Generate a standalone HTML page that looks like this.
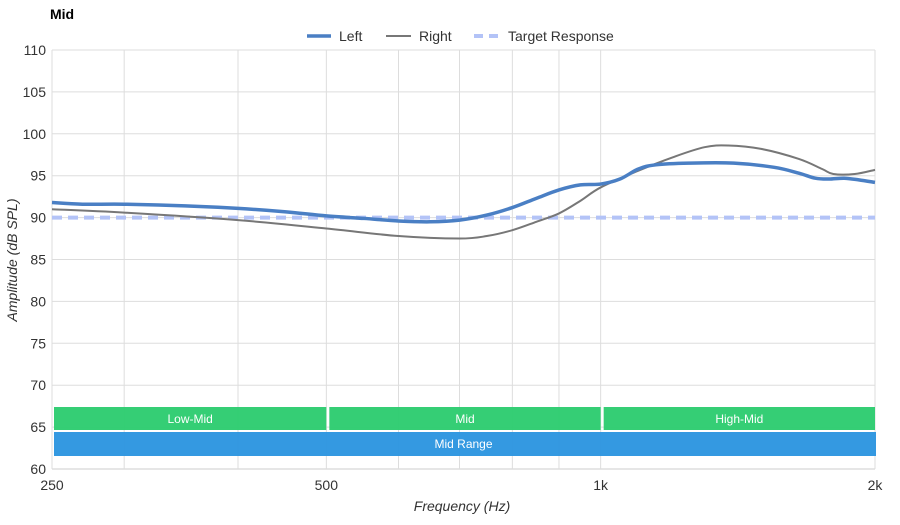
<!DOCTYPE html>
<html><head><meta charset="utf-8"><style>
body{margin:0;background:#fff;font-family:"Liberation Sans",sans-serif}
</style></head><body>
<svg id="c" width="900" height="520" xmlns="http://www.w3.org/2000/svg" style="font-family:'Liberation Sans',sans-serif">
<text x="50" y="19" font-size="14" font-weight="bold" fill="#000">Mid</text>
<g id="grid"></g><g id="bands"></g><g id="series"></g><g id="axes"></g>
<g>
<g><line x1="307" y1="36" x2="331" y2="36" stroke="#4a7fc4" stroke-width="3.5"/><text x="339" y="41" font-size="14" fill="#333">Left</text></g>
<g><line x1="386" y1="36" x2="411" y2="36" stroke="#777" stroke-width="2"/><text x="419" y="41" font-size="14" fill="#333">Right</text></g>
<g><line x1="474" y1="36" x2="500" y2="36" stroke="#b3c3f7" stroke-width="4" stroke-dasharray="9,6"/><text x="508" y="41" font-size="14" fill="#333">Target Response</text></g>
</g>
<text x="462" y="511" font-size="14" font-style="italic" fill="#333" text-anchor="middle">Frequency (Hz)</text>
<text transform="translate(17,260) rotate(-90)" font-size="14" font-style="italic" fill="#333" text-anchor="middle">Amplitude (dB SPL)</text>
</svg>
<script>
const yTicks=[60,65,70,75,80,85,90,95,100,105,110];
const xGrid=[250,300,400,500,600,700,800,900,1000,2000];
const xTickVals=[250,500,1000,2000];
const xTickLabels=["250","500","1k","2k"];
const leftF=[250,270,300,350,400,450,500,550,600,650,700,750,800,850,900,950,1000,1050,1100,1150,1250,1400,1550,1650,1720,1780,1850,1920,2000];
const leftV=[91.8,91.6,91.6,91.4,91.1,90.7,90.2,89.9,89.6,89.5,89.7,90.3,91.2,92.3,93.3,93.9,94.0,94.6,95.8,96.3,96.5,96.5,96.0,95.3,94.7,94.6,94.7,94.5,94.2];
const rightF=[250,300,400,500,600,700,750,800,850,900,950,1000,1100,1200,1300,1380,1500,1650,1750,1800,1900,2000];
const rightV=[91.0,90.6,89.7,88.7,87.8,87.5,87.8,88.5,89.5,90.5,92.0,93.6,95.6,97.2,98.4,98.6,98.2,97.0,95.8,95.2,95.2,95.7];
const targetV=90;
const bandNames=["Low-Mid","Mid","High-Mid"];
const bandStart=[250,500,1000];
const bandEnd=[500,1000,2000];
const X0=52,X1=875,Y0=469,Y1=50;
const sx=f=>X0+(X1-X0)*Math.log2(f/250)/3;
const sy=v=>Y0-(Y0-Y1)*(v-60)/50;
const NS="http://www.w3.org/2000/svg";
function mk(tag,attrs,parent){const e=document.createElementNS(NS,tag);for(const k in attrs)e.setAttribute(k,attrs[k]);parent.appendChild(e);return e;}
const grid=document.getElementById('grid'),axes=document.getElementById('axes'),bands=document.getElementById('bands'),series=document.getElementById('series');
yTicks.forEach(v=>{
 const l=mk('line',{x1:X0,x2:X1,y1:sy(v),y2:sy(v),stroke:v===60?'#ccc':'#ddd','stroke-width':1},grid);
 
 
 const t=mk('text',{x:X0-6,y:sy(v)+5,'font-size':14,fill:'#333','text-anchor':'end'},axes);
 t.textContent=v;
 
 
});
xGrid.forEach(f=>{
 const l=mk('line',{x1:sx(f),x2:sx(f),y1:Y1,y2:Y0,stroke:'#ddd','stroke-width':1},grid);
 
 
});
xTickVals.forEach((f,i)=>{
 const t=mk('text',{x:sx(f),y:490,'font-size':14,fill:'#333','text-anchor':'middle'},axes);
 t.textContent=xTickLabels[i];
 
 
});
bandNames.forEach((n,i)=>{
 const a=sx(bandStart[i])+(i===0?2:3),b=sx(bandEnd[i])-(i===2?0:0);
 const r=mk('rect',{x:a,y:407,width:b-a,height:23,fill:'#2ecc71','fill-opacity':0.97},bands);
 
 
 const t=mk('text',{x:(a+b)/2,y:423,'font-size':12,fill:'#fff','text-anchor':'middle'},bands);
 t.textContent=n;
 
 
});
const mr=mk('rect',{x:sx(250)+2,y:432,width:sx(2000)-sx(250)-1,height:24,fill:'#2d96e0','fill-opacity':0.97},bands);


const mt=mk('text',{x:(sx(250)+sx(2000))/2,y:448,'font-size':12,fill:'#fff','text-anchor':'middle'},bands);
mt.textContent='Mid Range';


function smooth(F,V){
 const p=F.map((f,i)=>[sx(f),sy(V[i])]);let d='M'+p[0][0]+','+p[0][1];
 for(let i=0;i<p.length-1;i++){const p0=p[Math.max(0,i-1)],p1=p[i],p2=p[i+1],p3=p[Math.min(p.length-1,i+2)];
  d+=' C'+(p1[0]+(p2[0]-p0[0])/6)+','+(p1[1]+(p2[1]-p0[1])/6)+' '+(p2[0]-(p3[0]-p1[0])/6)+','+(p2[1]-(p3[1]-p1[1])/6)+' '+p2[0]+','+p2[1];}
 return d;}
const tl=mk('line',{x1:X0,x2:X1,y1:sy(targetV),y2:sy(targetV),stroke:'#b3c3f7','stroke-width':4,'stroke-dasharray':'10,6'},series);


const rp=mk('path',{d:smooth(rightF,rightV),fill:'none',stroke:'#777','stroke-width':2},series);


const lp=mk('path',{d:smooth(leftF,leftV),fill:'none',stroke:'#4a7fc4','stroke-width':3.5},series);


</script>
</body></html>
